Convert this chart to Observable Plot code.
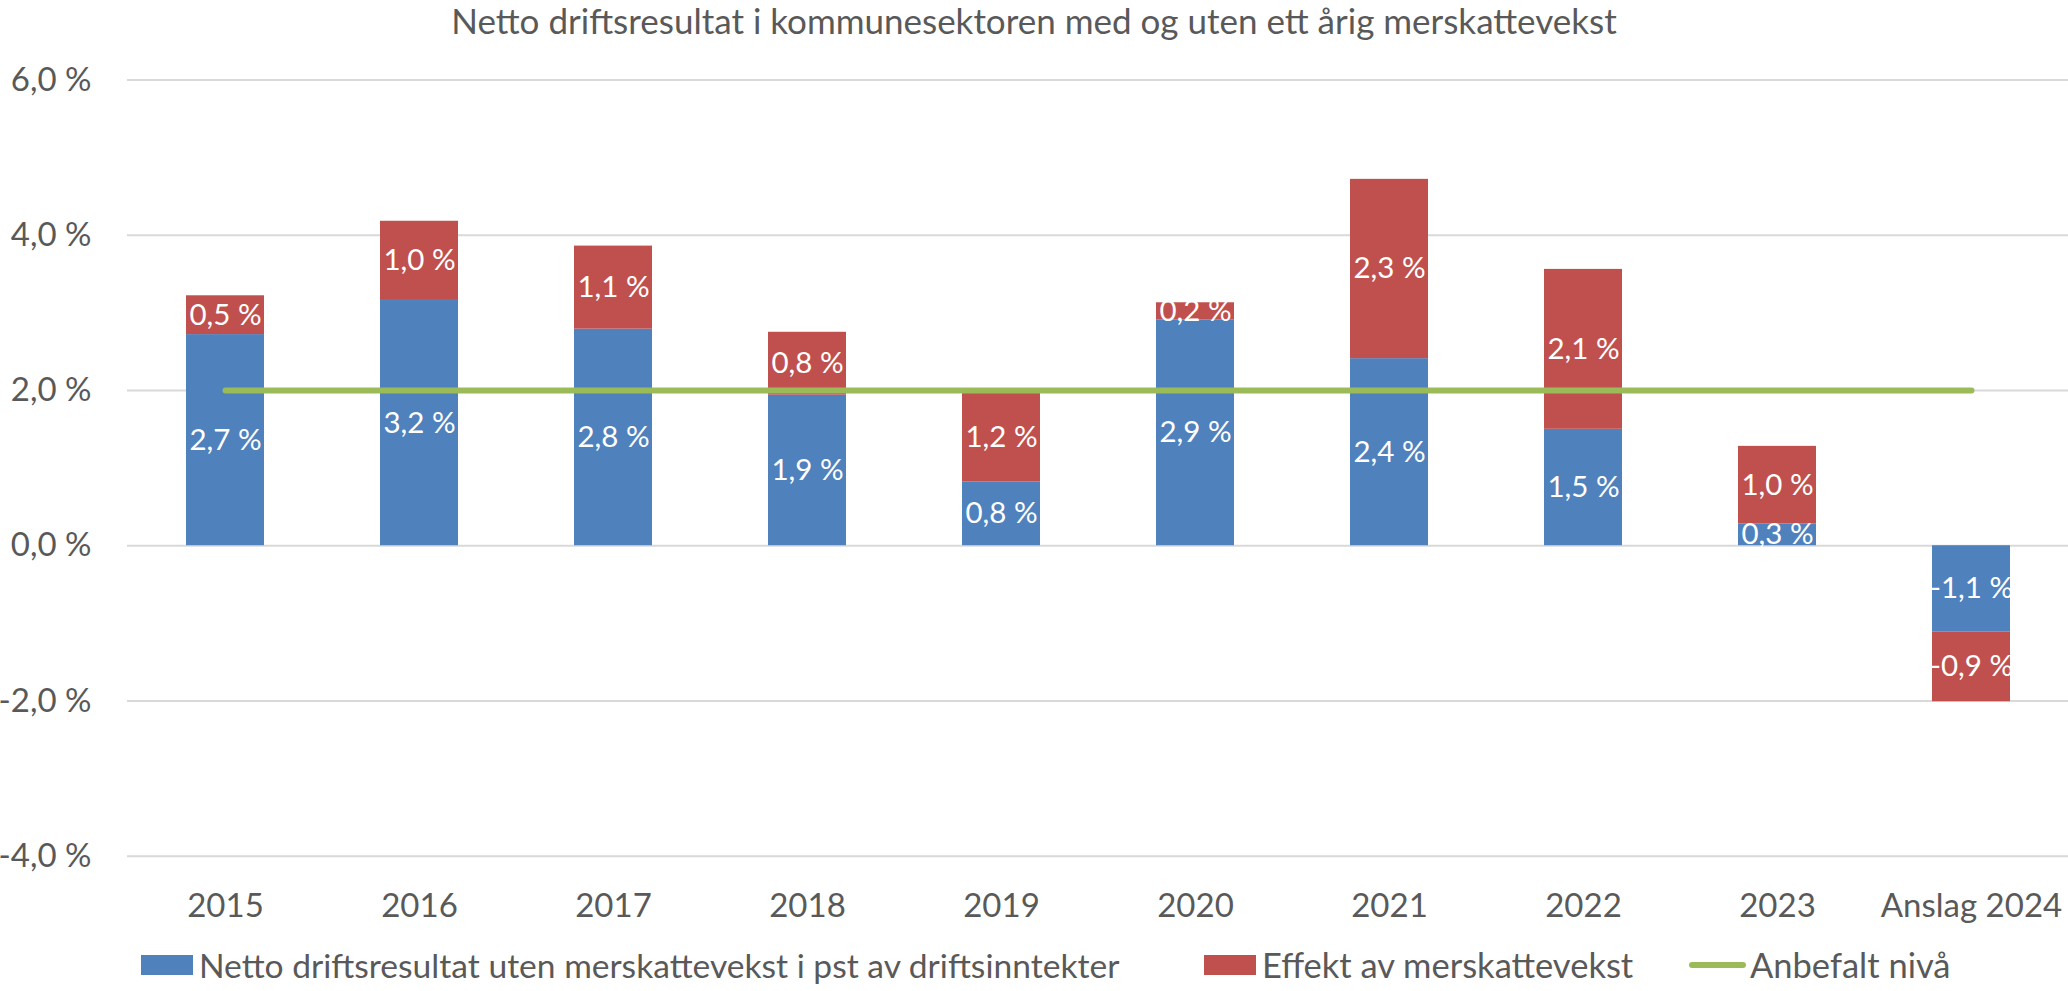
<!DOCTYPE html>
<html>
<head>
<meta charset="utf-8">
<script src="https://cdn.jsdelivr.net/npm/d3@7"></script>
<script src="https://cdn.jsdelivr.net/npm/@observablehq/plot@0.6"></script>
<style>
  html, body { margin: 0; padding: 0; background: #fff; }
  body { width: 2068px; height: 991px; overflow: hidden; font-family: Lato, "Open Sans", sans-serif; color: #595959; }
  #title { height: 42px; line-height: 40px; text-align: center; font-size: 35px; color: #595959; white-space: nowrap; }
  #chart svg { display: block; }
  #legend { position: relative; height: 53px; }
  .item { position: absolute; top: 0; height: 53px; display: flex; align-items: center; font-size: 34.5px; color: #595959; white-space: nowrap; }
  .item.first { font-size: 33.6px; }
  .sw { width: 52px; height: 20px; margin-right: 6px; }
  .ln { width: 57px; height: 6px; border-radius: 3px; margin-right: 4px; }
</style>
</head>
<body>
<div id="title"></div>
<div id="chart"></div>
<div id="legend"></div>
<script>
const titleText = "Netto driftsresultat i kommunesektoren med og uten ett årig merskattevekst";
const years = ["2015", "2016", "2017", "2018", "2019", "2020", "2021", "2022", "2023", "Anslag 2024"];
const netto = [2.72, 3.16, 2.79, 1.94, 0.82, 2.91, 2.41, 1.50, 0.28, -1.11];
const effekt = [0.50, 1.02, 1.07, 0.81, 1.16, 0.22, 2.31, 2.06, 1.00, -0.90];
const anbefalt = [2, 2, 2, 2, 2, 2, 2, 2, 2, 2];
const seriesNames = ["Netto driftsresultat uten merskattevekst i pst av driftsinntekter", "Effekt av merskattevekst", "Anbefalt nivå"];
const colors = ["#4F81BD", "#C0504D", "#9BBB59"];
const yTicks = [-4, -2, 0, 2, 4, 6];

const fmt = d => d.toFixed(1).replace(".", ",") + " %";

const bars = [];
years.forEach((y, i) => {
  bars.push({year: y, series: seriesNames[0], value: netto[i]});
  bars.push({year: y, series: seriesNames[1], value: effekt[i]});
});
const target = years.map((y, i) => ({year: y, value: anbefalt[i]}));

document.getElementById("title").textContent = titleText;

const chart = Plot.plot({
  width: 2068,
  height: 896,
  marginLeft: 127,
  marginRight: 0,
  marginTop: 37.5,
  marginBottom: 82.3,
  style: {fontFamily: "Lato, 'Open Sans', sans-serif", fontSize: "33px", color: "#595959", background: "#fff"},
  x: {domain: years, paddingInner: 0.6, paddingOuter: 0.3, label: null, tickSize: 0, tickPadding: 37},
  y: {domain: [-4, 6], ticks: yTicks, tickFormat: fmt, label: null, tickSize: 0, tickPadding: 36},
  color: {domain: seriesNames.slice(0, 2), range: colors.slice(0, 2)},
  marks: [
    Plot.ruleY(yTicks, {stroke: "#D9D9D9", strokeWidth: 2}),
    Plot.barY(bars, {x: "year", y: "value", fill: "series", order: seriesNames.slice(0, 2)}),
    Plot.text(bars, Plot.stackY({x: "year", y: "value", z: "series", order: seriesNames.slice(0, 2), text: d => fmt(d.value), fill: "white", fontSize: 29.5})),
    Plot.lineY(target, {x: "year", y: "value", stroke: colors[2], strokeWidth: 6})
  ]
});
document.getElementById("chart").appendChild(chart);

const legend = document.getElementById("legend");
const lefts = [141, 1204, 1689];
seriesNames.forEach((name, i) => {
  const it = document.createElement("div");
  it.className = i === 0 ? "item first" : "item";
  it.style.left = lefts[i] + "px";
  const m = document.createElement("div");
  m.className = i < 2 ? "sw" : "ln";
  m.style.background = colors[i];
  const t = document.createElement("span");
  t.textContent = name;
  it.appendChild(m);
  it.appendChild(t);
  legend.appendChild(it);
});
</script>
</body>
</html>
